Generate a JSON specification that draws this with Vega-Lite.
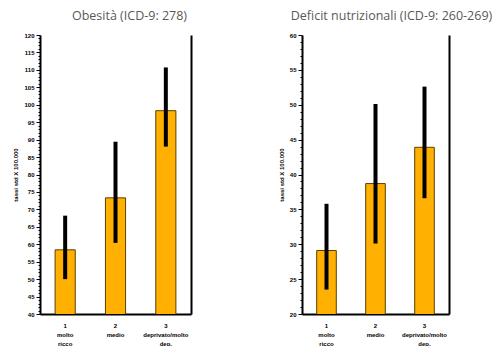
{
  "$schema": "https://vega.github.io/schema/vega-lite/v6.json",
  "padding": {"left": 12, "top": 9, "right": 0, "bottom": 0},
  "spacing": 87,
  "config": {
    "view": {"stroke": null},
    "axis": {"domainColor": "black", "tickColor": "black", "labelColor": "black", "titleColor": "black", "grid": false}
  },
  "datasets": {
    "d": [
      {"panel": "A", "cat": "1|molto|ricco", "value": 58.4, "lo": 50.0, "hi": 68.2},
      {"panel": "A", "cat": "2|medio", "value": 73.3, "lo": 60.4, "hi": 89.4},
      {"panel": "A", "cat": "3|deprivato/molto|dep.", "value": 98.3, "lo": 88.0, "hi": 110.7},
      {"panel": "B", "cat": "1|molto|ricco", "value": 29.1, "lo": 23.5, "hi": 35.8},
      {"panel": "B", "cat": "2|medio", "value": 38.7, "lo": 30.1, "hi": 50.1},
      {"panel": "B", "cat": "3|deprivato/molto|dep.", "value": 43.9, "lo": 36.6, "hi": 52.6}
    ]
  },
  "data": {"name": "d"},
  "hconcat": [
    {
      "width": 151,
      "height": 279,
      "title": {"text": "Obesità (ICD-9: 278)", "font": "Open Sans", "fontSize": 12.5, "fontWeight": "normal", "color": "#595959", "dx": 14, "offset": 10},
      "transform": [{"filter": "datum.panel === 'A'"}],
      "layer": [
        {
          "mark": {"type": "bar", "fill": "#FFB000", "stroke": "#5a4000", "strokeWidth": 1, "clip": true},
          "encoding": {
            "x": {"field": "cat", "type": "nominal", "sort": null,
              "scale": {"paddingInner": 0.6, "paddingOuter": 0.3},
              "axis": {"title": null, "labelAngle": 0, "ticks": false, "domainWidth": 2, "labelExpr": "split(datum.label, '|')", "labelFont": "Liberation Sans", "labelFontSize": 6, "labelFontWeight": "bold", "labelPadding": 8, "labelLineHeight": 9}},
            "y": {"field": "value", "type": "quantitative",
              "scale": {"domain": [40, 120], "nice": false, "zero": false},
              "axis": {"title": "tassi std X 100.000", "titleFont": "Liberation Sans", "titleFontSize": 6, "titleFontWeight": "bold", "titlePadding": 5,
                "values": [40,41,42,43,44,45,46,47,48,49,50,51,52,53,54,55,56,57,58,59,60,61,62,63,64,65,66,67,68,69,70,71,72,73,74,75,76,77,78,79,80,81,82,83,84,85,86,87,88,89,90,91,92,93,94,95,96,97,98,99,100,101,102,103,104,105,106,107,108,109,110,111,112,113,114,115,116,117,118,119,120],
                "labelExpr": "datum.value % 5 === 0 ? datum.label : ''",
                "labelOverlap": false,
                "tickSize": {"condition": {"test": "datum.value % 5 === 0", "value": 4}, "value": 2},
                "domainWidth": 2, "labelFont": "Liberation Sans", "labelFontSize": 6, "labelFontWeight": "bold", "labelPadding": 2}}
          }
        },
        {
          "mark": {"type": "rule", "strokeWidth": 4, "color": "black"},
          "encoding": {
            "x": {"field": "cat", "type": "nominal", "sort": null},
            "y": {"field": "lo", "type": "quantitative", "axis": {"orient": "right", "labels": false, "ticks": false, "title": null, "domainWidth": 2}},
            "y2": {"field": "hi"}
          }
        }
      ],
      "resolve": {"axis": {"y": "independent"}}
    },
    {
      "width": 147,
      "height": 279,
      "title": {"text": "Deficit nutrizionali (ICD-9: 260-269)", "font": "Open Sans", "fontSize": 12.5, "fontWeight": "normal", "color": "#595959", "dx": 16, "offset": 10},
      "transform": [{"filter": "datum.panel === 'B'"}],
      "layer": [
        {
          "mark": {"type": "bar", "fill": "#FFB000", "stroke": "#5a4000", "strokeWidth": 1, "clip": true},
          "encoding": {
            "x": {"field": "cat", "type": "nominal", "sort": null,
              "scale": {"paddingInner": 0.6, "paddingOuter": 0.3},
              "axis": {"title": null, "labelAngle": 0, "ticks": false, "domainWidth": 2, "labelExpr": "split(datum.label, '|')", "labelFont": "Liberation Sans", "labelFontSize": 6, "labelFontWeight": "bold", "labelPadding": 8, "labelLineHeight": 9}},
            "y": {"field": "value", "type": "quantitative",
              "scale": {"domain": [20, 60], "nice": false, "zero": false},
              "axis": {"title": "tassi std X 100.000", "titleFont": "Liberation Sans", "titleFontSize": 6, "titleFontWeight": "bold", "titlePadding": 5,
                "values": [20,21,22,23,24,25,26,27,28,29,30,31,32,33,34,35,36,37,38,39,40,41,42,43,44,45,46,47,48,49,50,51,52,53,54,55,56,57,58,59,60],
                "labelExpr": "datum.value % 5 === 0 ? datum.label : ''",
                "labelOverlap": false,
                "tickSize": {"condition": {"test": "datum.value % 5 === 0", "value": 4}, "value": 2},
                "domainWidth": 2, "labelFont": "Liberation Sans", "labelFontSize": 6, "labelFontWeight": "bold", "labelPadding": 2}}
          }
        },
        {
          "mark": {"type": "rule", "strokeWidth": 4, "color": "black"},
          "encoding": {
            "x": {"field": "cat", "type": "nominal", "sort": null},
            "y": {"field": "lo", "type": "quantitative", "axis": {"orient": "right", "labels": false, "ticks": false, "title": null, "domainWidth": 2}},
            "y2": {"field": "hi"}
          }
        }
      ],
      "resolve": {"axis": {"y": "independent"}}
    }
  ]
}
